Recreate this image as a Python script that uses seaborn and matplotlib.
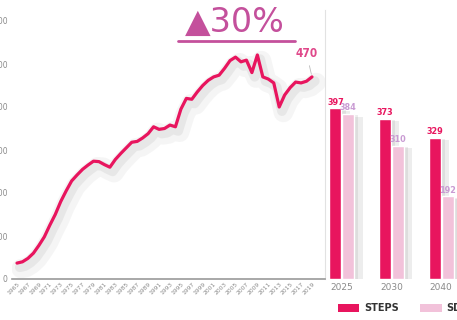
import numpy as np
import pandas as pd
import matplotlib
matplotlib.use("Agg")
import matplotlib.pyplot as plt
import matplotlib.patheffects as pe
from matplotlib.patches import Patch
import seaborn as sns

# ---- data ----
years = list(range(1965, 2020))
demand = [37, 40, 48, 60, 78, 98, 125, 150, 180, 205,
          228, 242, 255, 265, 274, 273, 266, 260, 278, 292,
          305, 318, 320, 328, 338, 354, 348, 350, 358, 354,
          395, 420, 418, 435, 450, 462, 470, 474, 490, 508,
          516, 505, 509, 480, 521, 470, 465, 456, 400, 428,
          445, 458, 456, 460, 470]
scen_years = ["2025", "2030", "2040"]
steps = [397, 373, 329]
sds = [384, 310, 192]
yticks = [0, 100, 200, 300, 400, 500, 600]
xtick_years = list(range(1965, 2020, 2))
title_text = "\u25B230%"
end_label = "470"

PINK = "#E8155E"
LIGHT = "#F2C2DA"
SDS_TXT = "#C99BD3"
TITLE_C = "#C4509C"
GRAY = "#8a8a8a"

sns.set_theme(style="white")
plt.rcParams['font.family'] = ['DejaVu Sans']

fig = plt.figure(figsize=(4.57, 3.2), dpi=100)
fig.patch.set_facecolor("white")

y0 = (320 - 279) / 320
ytop = (320 - 10) / 320
ymax = (279 - 10) / 0.43

# ---- left: history line ----
ax = fig.add_axes([12 / 457, y0, 313 / 457, ytop - y0])
df = pd.DataFrame({"year": years, "demand": demand})
shadow = [pe.SimpleLineShadow(offset=(3, -4), shadow_color="#888888", alpha=0.08, linewidth=14),
          pe.SimpleLineShadow(offset=(2, -3), shadow_color="#888888", alpha=0.12, linewidth=7),
          pe.Normal()]
sns.lineplot(data=df, x="year", y="demand", ax=ax, color=PINK, lw=2.3,
             path_effects=shadow)
ax.set_xlim(1965 - 5 / 5.46, 2019 + 13 / 5.46)
ax.set_ylim(0, ymax)
ax.set_yticks(yticks)
ax.set_yticklabels([str(v) for v in yticks], fontsize=5.5, color=GRAY)
ax.set_xticks(xtick_years)
ax.set_xticklabels([str(v) for v in xtick_years], fontsize=4.3, color=GRAY,
                   rotation=45, ha="right", rotation_mode="anchor")
ax.tick_params(axis="both", length=0, pad=2)
ax.tick_params(axis="y", pad=3)
ax.set_xlabel("")
ax.set_ylabel("")
for s in ["top", "left"]:
    ax.spines[s].set_visible(False)
ax.spines["bottom"].set_color("#9a9a9a")
ax.spines["bottom"].set_linewidth(1.2)
ax.spines["right"].set_color("#e2e2e2")
ax.spines["right"].set_linewidth(0.8)
ax.patch.set_alpha(0)

ax.annotate(end_label, xy=(years[-1], demand[-1]), xytext=(2018, demand[-1] + 40),
            fontsize=8.5, color="#E0488A", ha="center", va="bottom",
            fontweight="bold", fontstretch="condensed",
            arrowprops=dict(arrowstyle="-", color="#bbbbbb", lw=0.6))

# ---- right: scenario bars ----
bx = fig.add_axes([322 / 457, y0, 135 / 457, ytop - y0])
bdf = pd.DataFrame({
    "year": scen_years * 2,
    "value": steps + sds,
    "scenario": ["STEPS"] * len(steps) + ["SDS"] * len(sds),
})
sns.barplot(data=bdf, x="year", y="value", hue="scenario", ax=bx,
            palette={"STEPS": PINK, "SDS": LIGHT}, width=0.52, gap=0.08,
            saturation=1, legend=False)
for p in bx.patches:
    p.set_path_effects([pe.SimplePatchShadow(offset=(6, -2), shadow_rgbFace="#888888", alpha=0.15),
                        pe.SimplePatchShadow(offset=(3, -1), shadow_rgbFace="#888888", alpha=0.15),
                        pe.Normal()])
cont_steps, cont_sds = bx.containers[0], bx.containers[1]
bx.bar_label(cont_steps, labels=[str(v) for v in steps], fontsize=6.5, color=PINK,
             padding=1, fontweight="bold", fontstretch="condensed")
bx.bar_label(cont_sds, labels=[str(v) for v in sds], fontsize=6.5, color=SDS_TXT,
             padding=1, fontweight="bold", fontstretch="condensed")
bx.set_xlim(-0.4, 2.32)
bx.set_ylim(0, ymax)
bx.set_yticks([])
bx.set_xlabel("")
bx.set_ylabel("")
bx.tick_params(axis="x", length=0, pad=3, labelsize=6.5, labelcolor=GRAY)
for s in ["top", "left", "right", "bottom"]:
    bx.spines[s].set_visible(False)
bx.patch.set_alpha(0)

# legend
handles = [Patch(facecolor=PINK, edgecolor="none"), Patch(facecolor=LIGHT, edgecolor="none")]
leg = fig.legend(handles, ["STEPS", "SDS"], loc="lower left",
                 bbox_to_anchor=(331 / 457, 0.0), ncol=2, frameon=False,
                 fontsize=7, handlelength=2.2, handleheight=1.0, handletextpad=0.5,
                 columnspacing=2.2, borderaxespad=0.3)
for t in leg.get_texts():
    t.set_fontweight("bold")
    t.set_color("#333333")

# title
fig.text(235 / 457, 1 - 22 / 320, title_text, fontsize=24, color=TITLE_C,
         ha="center", va="center")
fig.add_artist(plt.Line2D([178 / 457, 295 / 457], [1 - 41 / 320] * 2,
                          color=TITLE_C, lw=2))

fig.savefig("out.png", dpi=100)
